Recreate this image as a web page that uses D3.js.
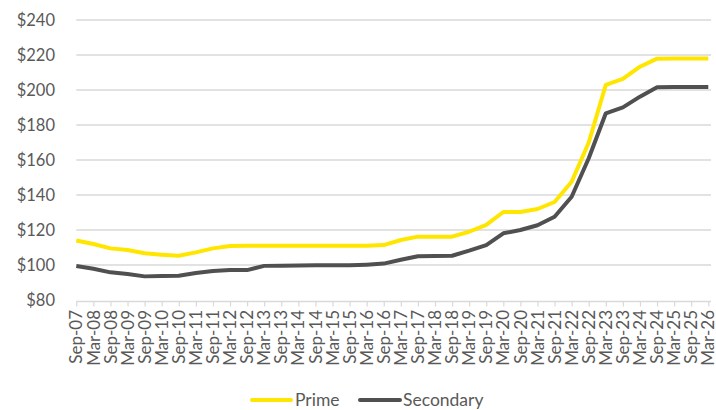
<!DOCTYPE html>
<html>
<head>
<meta charset="utf-8">
<script src="https://cdn.jsdelivr.net/npm/d3@7"></script>
<style>
  html, body { margin: 0; padding: 0; background: #fff; }
  svg { display: block; }
  text { font-family: Lato, "Open Sans", sans-serif; fill: #595959; }
</style>
</head>
<body>
<svg id="chart" width="716" height="410"></svg>
<script>
const categories = ["Sep-07","Mar-08","Sep-08","Mar-09","Sep-09","Mar-10","Sep-10","Mar-11","Sep-11","Mar-12",
  "Sep-12","Mar-13","Sep-13","Mar-14","Sep-14","Mar-15","Sep-15","Mar-16","Sep-16","Mar-17",
  "Sep-17","Mar-18","Sep-18","Mar-19","Sep-19","Mar-20","Sep-20","Mar-21","Sep-21","Mar-22",
  "Sep-22","Mar-23","Sep-23","Mar-24","Sep-24","Mar-25","Sep-25","Mar-26"];
const prime = [114, 112, 109.5, 108.6, 106.7, 105.9, 105.3, 107.2, 109.5, 110.9,
  111, 111, 111, 111, 111, 111, 111, 111, 111.4, 114.3,
  116.2, 116.2, 116.2, 119, 122.9, 130.3, 130.3, 132, 136, 147.6,
  170, 202.9, 206.3, 213.3, 217.9, 218, 218, 218];
const secondary = [99.4, 97.9, 95.8, 94.9, 93.5, 93.7, 93.9, 95.4, 96.6, 97.1,
  97.1, 99.5, 99.6, 99.7, 99.8, 99.8, 99.8, 100.2, 100.8, 103,
  105, 105.1, 105.3, 108.2, 111.4, 118.1, 120, 122.7, 127.6, 139,
  161, 186.7, 190.1, 196.2, 201.6, 201.7, 201.7, 201.7];
const yTicks = [80, 100, 120, 140, 160, 180, 200, 220, 240];
const seriesNames = ["Prime", "Secondary"];
const seriesColors = ["#FFE600", "#505050"];

const svg = d3.select("#chart");
const mLeft = 76.3, mRight = 708.3, mTop = 20, mBottom = 300;

const x = d3.scalePoint().domain(categories).range([mLeft, mRight]);
const y = d3.scaleLinear().domain([80, 240]).range([mBottom, mTop]);

// gridlines
svg.append("g").selectAll("line").data(yTicks.filter(d => d > 80)).join("line")
  .attr("x1", mLeft).attr("x2", 711)
  .attr("y1", d => y(d)).attr("y2", d => y(d))
  .attr("stroke", "#D9D9D9").attr("stroke-width", 1.5);

// y axis labels
svg.append("g").selectAll("text").data(yTicks).join("text")
  .attr("x", 55).attr("y", d => y(d)).attr("dy", "0.38em")
  .attr("text-anchor", "end").attr("font-size", 16.5)
  .text(d => "$" + d);

// x axis
const xAxis = svg.append("g").attr("transform", `translate(0,${mBottom + 1.5})`)
  .call(d3.axisBottom(x).tickSize(5).tickSizeOuter(0).tickFormat(""));
xAxis.select(".domain").attr("stroke", "#D9D9D9").attr("stroke-width", 1.5)
  .attr("d", `M${mLeft},0H711`);
xAxis.selectAll(".tick line").attr("stroke", "#D9D9D9").attr("stroke-width", 1.2);

svg.append("g").selectAll("text").data(categories).join("text")
  .attr("transform", d => `translate(${x(d)},310) rotate(-90)`)
  .attr("text-anchor", "end").attr("dy", "0.36em")
  .attr("font-size", 17)
  .text(d => d);

// lines
const line = d3.line().x((d, i) => x(categories[i])).y(d => y(d));
[prime, secondary].forEach((s, k) => {
  svg.append("path").datum(s)
    .attr("d", line)
    .attr("fill", "none")
    .attr("stroke", seriesColors[k])
    .attr("stroke-width", 4)
    .attr("stroke-linejoin", "round")
    .attr("stroke-linecap", "butt");
});

// legend
const legendItems = [{x1: 252, x2: 291, tx: 295}, {x1: 360, x2: 400, tx: 403}];
legendItems.forEach((p, k) => {
  svg.append("line").attr("x1", p.x1).attr("x2", p.x2).attr("y1", 400).attr("y2", 400)
    .attr("stroke", seriesColors[k]).attr("stroke-width", 4).attr("stroke-linecap", "round");
  svg.append("text").attr("x", p.tx).attr("y", 400).attr("dy", "0.36em")
    .attr("font-size", 17.5).text(seriesNames[k]);
});
</script>
</body>
</html>
